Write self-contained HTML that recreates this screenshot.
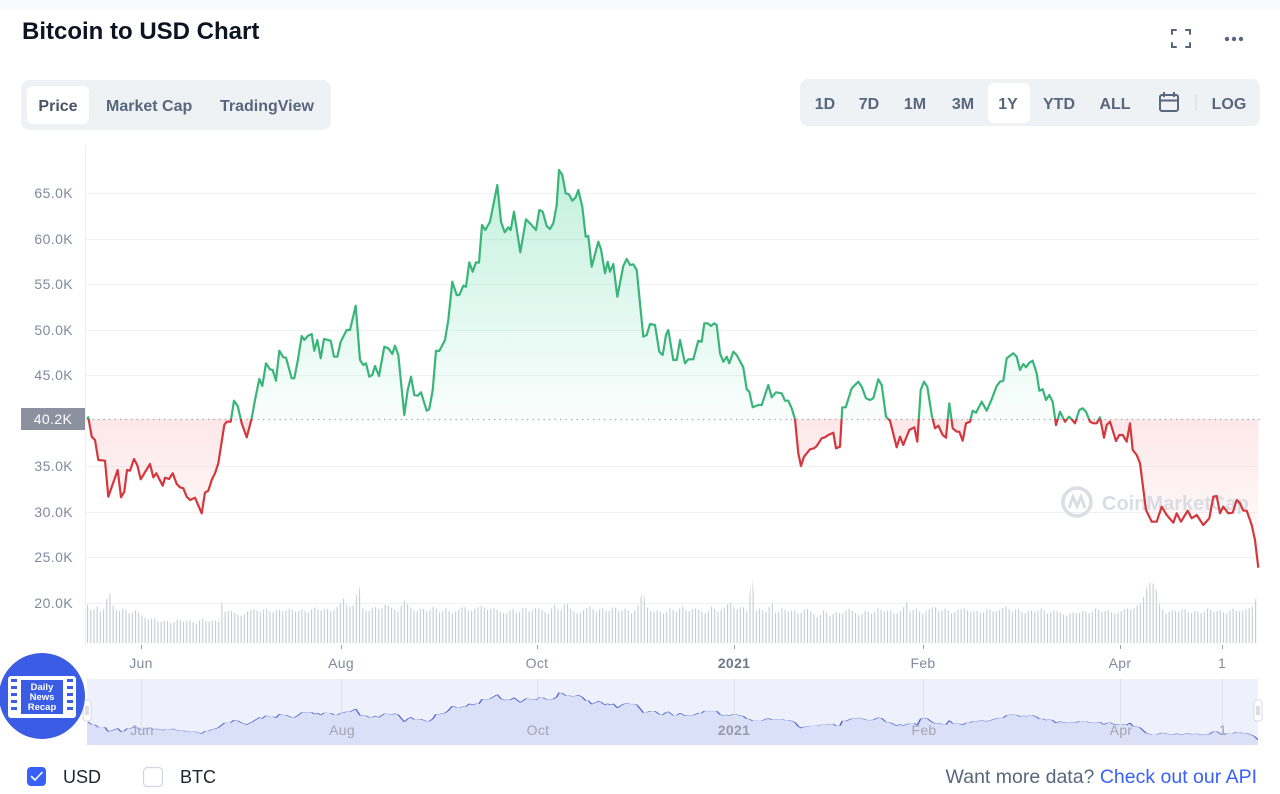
<!DOCTYPE html>
<html>
<head>
<meta charset="utf-8">
<style>
html,body{margin:0;padding:0;background:#fff;}
svg{display:block;font-family:"Liberation Sans",Arial,sans-serif;}
</style>
</head>
<body>
<svg width="1280" height="794" viewBox="0 0 1280 794" xmlns="http://www.w3.org/2000/svg">
<defs>
  <clipPath id="above"><rect x="0" y="0" width="1280" height="419"/></clipPath>
  <clipPath id="below"><rect x="0" y="419" width="1280" height="400"/></clipPath>
  <clipPath id="navclip"><rect x="87" y="679" width="1171" height="66"/></clipPath>
  <linearGradient id="gg" gradientUnits="userSpaceOnUse" x1="0" y1="170" x2="0" y2="419">
    <stop offset="0" stop-color="#16c784" stop-opacity="0.26"/>
    <stop offset="1" stop-color="#16c784" stop-opacity="0.02"/>
  </linearGradient>
  <linearGradient id="rg" gradientUnits="userSpaceOnUse" x1="0" y1="419" x2="0" y2="570">
    <stop offset="0" stop-color="#ea3943" stop-opacity="0.12"/>
    <stop offset="1" stop-color="#ea3943" stop-opacity="0"/>
  </linearGradient>
  <pattern id="vb" patternUnits="userSpaceOnUse" x="87" y="0" width="3.2" height="800">
    <rect x="0" y="0" width="1.1" height="800" fill="#c6cad4"/>
  </pattern>
  <path id="ln" d="M87,419 L88.3,417.3 91.7,436.7 95,440 98.3,460 105,460.7 108.3,496.7 117.7,470 121,497.3 124.3,491.7 127,470 130,470.7 134,459 137.3,465.3 140.7,479.3 150,464 153.3,477.3 156.3,473.3 162.7,485.7 165,477.7 169,479 172.7,473.3 176.7,484 180,487.3 183.3,488.3 186.7,496.7 190,500 195,497.7 201.7,513.3 205,492.7 208.3,490.7 211.7,480 215,473.3 218.3,463.3 224.3,425 226.7,421.7 230.7,421.7 234,400.7 237.7,406 241.7,423.3 246.7,437.3 251.7,418.3 255,400 259.3,379 262.3,386 266,363.3 270,369.3 272.7,370 276,380.7 279.3,350.7 283.3,357.3 286,357.7 291.7,378.3 294.3,378.3 297.7,361 301.7,336 304.3,340 307.7,336 311.7,334 314.3,350.7 317.3,340 320.7,358.3 324,339 330.7,340.7 334,356.7 337.3,356.7 340.7,341.7 346.7,330 350,330 355.7,305.7 360,360 363.3,365 366,363.3 369.3,376.7 372.3,375 375,366 379,376 384.3,346.7 388.3,348.3 392.3,354 395,345.7 398.3,355 404.3,415 407.7,390 411,376.7 414.3,395 417.7,395.7 421,392.3 426.7,410.7 429.3,409 432.7,390 436,350.7 439.3,351 445,340 448.3,320 452.3,281.7 456.7,295 459.3,295 463.3,285.7 466,286.7 469.3,262.3 472.7,271.7 476,262.3 479,262.7 482,225 485.3,230 490,221.7 497.3,185 501,221.7 504.7,232.3 508.3,227.3 510.7,230 514,211.7 520.3,252.3 526,219.3 530,223.3 536,230 539.3,210 542.7,211.7 546.7,226 550,229 553.3,223.3 556.7,205 559,170 562.3,175 565.7,193.3 569,194.3 572.3,200.7 575.7,197.3 578.3,190 582.3,206.7 585.7,236.7 588.3,236 591.7,266.7 598.3,241.7 601,249.3 605,273.3 607.7,261.7 610,271.7 613.3,264 617.3,296.7 623.3,266 626.7,259 630,265 633.3,264.3 636.7,270 643.3,336.7 646.7,335 650,324 655,325 659.3,351.7 662.7,355 666,335 668.3,330 673.3,360 676.7,360 680,340 685,363.3 688.3,359.3 693.3,359.3 698.3,340.7 701.7,341.7 704.3,323.3 707.7,323.3 711,326 714.3,323.3 716.7,325 720,353.3 723.3,361.7 726.7,356.7 729.3,363.3 733.3,351.7 736.7,355 743.3,367.3 746.7,389.3 749.3,391.7 752.7,407.3 758.3,405 761.7,405 768.3,385 771.7,397.3 776,392.3 781.7,393.3 785,400.7 788.3,400.7 791.7,408.3 795,419.3 798.3,453.3 801,466 804,456.7 810,449.3 814,448.3 816.7,446 821.7,438.3 825,437.3 828.3,435 833.3,432.7 836,448.3 840,446.7 842.3,407.3 845.7,407.3 851.7,388.3 858.3,381.7 861.7,386.7 866,398.3 870,400 873.3,398.3 878.3,379.3 881.7,385 886,416.7 890,420.7 896.7,447.3 900,436.7 903.3,445 909.3,430 914.3,427.3 917.3,441.7 920.7,390 924,381.7 927.3,386.7 931.7,415 935,428.3 938.3,425.7 942.7,435 946,437.7 949.3,403.3 952.7,428.3 956.7,431.7 959.3,431.7 962.7,440.7 966,423.3 970,421.7 972.7,410.7 976,412.7 981.7,401.7 986.7,410.7 991.7,399.3 996.7,386 1000,381.7 1003.3,380.7 1006.7,358.3 1013.3,353.3 1016.7,356.7 1020,370 1023.3,364 1026,367.3 1029.3,362.7 1032.7,360.7 1036.7,373.3 1039.3,390.7 1042.7,389.3 1046,400 1049.3,395 1052.7,401.7 1056,425 1060,411.7 1065,421.7 1069,416.7 1071.7,419.3 1075,423.3 1079.3,410 1082.7,408.3 1086,411.7 1090,421.7 1093.3,423.3 1096.7,423.3 1100,417.3 1104,437.7 1106.7,425 1110,421.7 1116,441 1119.3,435 1122.7,435 1126.7,441.7 1130,423.3 1132.7,450 1136.7,455 1140,463.3 1146,510 1151.7,521.7 1156.7,521.7 1161.7,506.7 1166.7,515 1173.3,522.7 1176.7,513.3 1181,521.7 1187.7,510.7 1191.7,518.3 1196.7,515 1203.3,525 1209.3,518.3 1213.3,496.7 1216.7,496 1220,513.3 1223.3,506.7 1228.3,513.3 1232.7,512.7 1236.7,500 1240,503.3 1243.3,510.7 1246.7,510.7 1251.7,525 1255,540 1258.3,567.7"/>
  <path id="fp" d="M87,419 L88.3,417.3 91.7,436.7 95,440 98.3,460 105,460.7 108.3,496.7 117.7,470 121,497.3 124.3,491.7 127,470 130,470.7 134,459 137.3,465.3 140.7,479.3 150,464 153.3,477.3 156.3,473.3 162.7,485.7 165,477.7 169,479 172.7,473.3 176.7,484 180,487.3 183.3,488.3 186.7,496.7 190,500 195,497.7 201.7,513.3 205,492.7 208.3,490.7 211.7,480 215,473.3 218.3,463.3 224.3,425 226.7,421.7 230.7,421.7 234,400.7 237.7,406 241.7,423.3 246.7,437.3 251.7,418.3 255,400 259.3,379 262.3,386 266,363.3 270,369.3 272.7,370 276,380.7 279.3,350.7 283.3,357.3 286,357.7 291.7,378.3 294.3,378.3 297.7,361 301.7,336 304.3,340 307.7,336 311.7,334 314.3,350.7 317.3,340 320.7,358.3 324,339 330.7,340.7 334,356.7 337.3,356.7 340.7,341.7 346.7,330 350,330 355.7,305.7 360,360 363.3,365 366,363.3 369.3,376.7 372.3,375 375,366 379,376 384.3,346.7 388.3,348.3 392.3,354 395,345.7 398.3,355 404.3,415 407.7,390 411,376.7 414.3,395 417.7,395.7 421,392.3 426.7,410.7 429.3,409 432.7,390 436,350.7 439.3,351 445,340 448.3,320 452.3,281.7 456.7,295 459.3,295 463.3,285.7 466,286.7 469.3,262.3 472.7,271.7 476,262.3 479,262.7 482,225 485.3,230 490,221.7 497.3,185 501,221.7 504.7,232.3 508.3,227.3 510.7,230 514,211.7 520.3,252.3 526,219.3 530,223.3 536,230 539.3,210 542.7,211.7 546.7,226 550,229 553.3,223.3 556.7,205 559,170 562.3,175 565.7,193.3 569,194.3 572.3,200.7 575.7,197.3 578.3,190 582.3,206.7 585.7,236.7 588.3,236 591.7,266.7 598.3,241.7 601,249.3 605,273.3 607.7,261.7 610,271.7 613.3,264 617.3,296.7 623.3,266 626.7,259 630,265 633.3,264.3 636.7,270 643.3,336.7 646.7,335 650,324 655,325 659.3,351.7 662.7,355 666,335 668.3,330 673.3,360 676.7,360 680,340 685,363.3 688.3,359.3 693.3,359.3 698.3,340.7 701.7,341.7 704.3,323.3 707.7,323.3 711,326 714.3,323.3 716.7,325 720,353.3 723.3,361.7 726.7,356.7 729.3,363.3 733.3,351.7 736.7,355 743.3,367.3 746.7,389.3 749.3,391.7 752.7,407.3 758.3,405 761.7,405 768.3,385 771.7,397.3 776,392.3 781.7,393.3 785,400.7 788.3,400.7 791.7,408.3 795,419.3 798.3,453.3 801,466 804,456.7 810,449.3 814,448.3 816.7,446 821.7,438.3 825,437.3 828.3,435 833.3,432.7 836,448.3 840,446.7 842.3,407.3 845.7,407.3 851.7,388.3 858.3,381.7 861.7,386.7 866,398.3 870,400 873.3,398.3 878.3,379.3 881.7,385 886,416.7 890,420.7 896.7,447.3 900,436.7 903.3,445 909.3,430 914.3,427.3 917.3,441.7 920.7,390 924,381.7 927.3,386.7 931.7,415 935,428.3 938.3,425.7 942.7,435 946,437.7 949.3,403.3 952.7,428.3 956.7,431.7 959.3,431.7 962.7,440.7 966,423.3 970,421.7 972.7,410.7 976,412.7 981.7,401.7 986.7,410.7 991.7,399.3 996.7,386 1000,381.7 1003.3,380.7 1006.7,358.3 1013.3,353.3 1016.7,356.7 1020,370 1023.3,364 1026,367.3 1029.3,362.7 1032.7,360.7 1036.7,373.3 1039.3,390.7 1042.7,389.3 1046,400 1049.3,395 1052.7,401.7 1056,425 1060,411.7 1065,421.7 1069,416.7 1071.7,419.3 1075,423.3 1079.3,410 1082.7,408.3 1086,411.7 1090,421.7 1093.3,423.3 1096.7,423.3 1100,417.3 1104,437.7 1106.7,425 1110,421.7 1116,441 1119.3,435 1122.7,435 1126.7,441.7 1130,423.3 1132.7,450 1136.7,455 1140,463.3 1146,510 1151.7,521.7 1156.7,521.7 1161.7,506.7 1166.7,515 1173.3,522.7 1176.7,513.3 1181,521.7 1187.7,510.7 1191.7,518.3 1196.7,515 1203.3,525 1209.3,518.3 1213.3,496.7 1216.7,496 1220,513.3 1223.3,506.7 1228.3,513.3 1232.7,512.7 1236.7,500 1240,503.3 1243.3,510.7 1246.7,510.7 1251.7,525 1255,540 1258.3,567.7 L1258.3,419 Z"/>
</defs>

<rect x="0" y="0" width="1280" height="10" fill="#f9fafb"/>

<!-- Title -->
<text x="22" y="39" font-size="24" font-weight="bold" fill="#0d1421">Bitcoin to USD Chart</text>

<!-- top right icons -->
<g stroke="#58667e" stroke-width="2" fill="none" stroke-linecap="round">
  <path d="M1172 34 V30 H1176"/>
  <path d="M1186 30 H1190 V34"/>
  <path d="M1190 43 V47 H1186"/>
  <path d="M1176 47 H1172 V43"/>
</g>
<circle cx="1227" cy="39" r="2.2" fill="#58667e"/>
<circle cx="1234" cy="39" r="2.2" fill="#58667e"/>
<circle cx="1241" cy="39" r="2.2" fill="#58667e"/>

<!-- Tabs -->
<rect x="21" y="80" width="310" height="50" rx="8" fill="#eff2f5"/>
<rect x="27" y="86" width="62" height="38" rx="6" fill="#ffffff"/>
<g font-size="16" font-weight="bold" fill="#58667e">
  <text x="58" y="111" text-anchor="middle" fill="#4a5468">Price</text>
  <text x="106" y="111">Market Cap</text>
  <text x="220" y="111">TradingView</text>
</g>

<!-- Range toolbar -->
<rect x="800" y="79" width="460" height="47" rx="8" fill="#eff2f5"/>
<rect x="988" y="83" width="42" height="40" rx="6" fill="#ffffff"/>
<g font-size="16" font-weight="bold" fill="#58667e" text-anchor="middle">
  <text x="825" y="109">1D</text>
  <text x="869" y="109">7D</text>
  <text x="915" y="109">1M</text>
  <text x="963" y="109">3M</text>
  <text x="1008" y="109">1Y</text>
  <text x="1059" y="109">YTD</text>
  <text x="1115" y="109">ALL</text>
  <text x="1229" y="109">LOG</text>
</g>
<g stroke="#58667e" stroke-width="2" fill="none">
  <rect x="1160" y="95" width="18" height="16" rx="2"/>
  <line x1="1160" y1="100.5" x2="1178" y2="100.5"/>
  <line x1="1164" y1="92" x2="1164" y2="97"/>
  <line x1="1174" y1="92" x2="1174" y2="97"/>
</g>
<line x1="1196" y1="94" x2="1196" y2="111" stroke="#d3d7de" stroke-width="1"/>

<!-- Grid -->
<g stroke="#eff2f5" stroke-width="1">
  <line x1="85" y1="193.5" x2="1258" y2="193.5"/>
  <line x1="85" y1="239.5" x2="1258" y2="239.5"/>
  <line x1="85" y1="284.5" x2="1258" y2="284.5"/>
  <line x1="85" y1="330.5" x2="1258" y2="330.5"/>
  <line x1="85" y1="375.5" x2="1258" y2="375.5"/>
  <line x1="85" y1="466.5" x2="1258" y2="466.5"/>
  <line x1="85" y1="512.5" x2="1258" y2="512.5"/>
  <line x1="85" y1="557.5" x2="1258" y2="557.5"/>
  <line x1="85" y1="603.5" x2="1258" y2="603.5"/>
</g>
<line x1="85.5" y1="145" x2="85.5" y2="645" stroke="#eceff3" stroke-width="1"/>

<!-- Y labels -->
<g font-size="14" fill="#808a9d" text-anchor="end" letter-spacing="0.4">
  <text x="73" y="198">65.0K</text>
  <text x="73" y="244">60.0K</text>
  <text x="73" y="289">55.0K</text>
  <text x="73" y="335">50.0K</text>
  <text x="73" y="380">45.0K</text>
  <text x="73" y="471">35.0K</text>
  <text x="73" y="517">30.0K</text>
  <text x="73" y="562">25.0K</text>
  <text x="73" y="608">20.0K</text>
</g>

<!-- Volume bars -->
<polygon fill="url(#vb)" points="87,604 92,612 97,606 102,614 107,598 110,593 113,606 118,612 124,608 130,614 136,610 142,616 148,620 154,618 160,622 166,620 172,624 178,619 184,622 190,620 196,624 202,618 208,622 214,620 219,622 221,598 224,612 230,610 236,614 242,616 248,611 254,609 260,612 266,608 272,613 278,609 284,612 290,608 296,612 302,609 308,613 314,607 320,611 326,608 332,612 338,606 344,598 348,608 354,605 359,584 362,608 368,612 374,606 380,610 386,604 392,608 398,612 404,600 410,607 416,612 422,608 428,612 434,606 440,613 446,608 452,614 458,610 464,606 470,612 476,608 482,606 488,610 494,608 500,612 506,614 512,608 518,614 524,606 530,612 536,608 542,610 548,614 554,604 560,612 566,602 572,610 578,614 584,610 590,606 596,612 602,608 608,612 614,606 620,612 626,608 632,614 638,606 643,590 646,606 652,612 658,610 664,614 670,608 676,612 682,606 688,612 694,608 700,610 706,614 712,606 718,612 724,608 730,602 736,610 742,606 748,612 752,570 755,612 760,608 766,612 772,602 776,614 782,608 788,612 794,610 800,614 806,608 812,612 818,618 824,610 830,616 836,612 842,614 848,608 854,612 860,616 866,610 872,614 878,608 884,612 890,610 896,614 902,610 907,601 910,612 916,608 922,614 928,610 934,606 940,612 946,608 952,614 958,610 964,608 970,612 976,610 982,614 988,608 994,612 1000,610 1006,606 1012,612 1018,608 1024,614 1030,610 1036,612 1042,608 1048,614 1054,610 1060,612 1066,616 1072,612 1078,614 1084,610 1090,614 1096,608 1102,612 1108,610 1114,614 1120,612 1126,608 1132,610 1136,606 1140,604 1144,596 1148,584 1152,582 1156,588 1160,606 1166,614 1172,610 1178,612 1184,608 1190,614 1196,610 1202,614 1208,608 1214,612 1220,610 1226,614 1232,608 1238,612 1244,610 1250,608 1254,606 1258,588 1258,643 87,643"/>

<!-- Price fill -->
<use href="#fp" fill="url(#gg)" clip-path="url(#above)"/>
<use href="#fp" fill="url(#rg)" clip-path="url(#below)"/>

<!-- Watermark -->
<g opacity="0.9">
  <circle cx="1077" cy="502" r="14" fill="none" stroke="#d6dae2" stroke-width="3.5"/>
  <path d="M1069 508 L1073 497 L1077 506 L1081 497 L1085 508" fill="none" stroke="#d6dae2" stroke-width="3"/>
  <text x="1102" y="510" font-size="20" font-weight="bold" fill="#d6dae2">CoinMarketCap</text>
</g>

<!-- Dotted baseline -->
<line x1="87" y1="419.5" x2="1260" y2="419.5" stroke="#9ea4b0" stroke-width="1.3" stroke-dasharray="1.3 4.2"/>

<!-- Price line -->
<use href="#ln" fill="none" stroke="#3ab57a" stroke-width="2.2" stroke-linejoin="round" clip-path="url(#above)"/>
<use href="#ln" fill="none" stroke="#d4373c" stroke-width="2.2" stroke-linejoin="round" clip-path="url(#below)"/>

<!-- 40.2K current label -->
<rect x="21" y="408" width="64" height="22" fill="#8b919e"/>
<text x="53" y="424" font-size="14" fill="#ffffff" text-anchor="middle" letter-spacing="0.4">40.2K</text>

<!-- X axis ticks & labels -->
<g stroke="#9aa0ab" stroke-width="1">
  <line x1="141.5" y1="645" x2="141.5" y2="649"/>
  <line x1="341.5" y1="645" x2="341.5" y2="649"/>
  <line x1="537.5" y1="645" x2="537.5" y2="649"/>
  <line x1="734.5" y1="645" x2="734.5" y2="649"/>
  <line x1="923.5" y1="645" x2="923.5" y2="649"/>
  <line x1="1120.5" y1="645" x2="1120.5" y2="649"/>
  <line x1="1222.5" y1="645" x2="1222.5" y2="649"/>
</g>
<g font-size="14" fill="#808a9d" text-anchor="middle" letter-spacing="0.3">
  <text x="141" y="668">Jun</text>
  <text x="341" y="668">Aug</text>
  <text x="537" y="668">Oct</text>
  <text x="734" y="668" font-weight="bold" fill="#6f7889">2021</text>
  <text x="923" y="668">Feb</text>
  <text x="1120" y="668">Apr</text>
  <text x="1222" y="668">1</text>
</g>

<!-- Navigator -->
<rect x="87" y="679" width="1171" height="66" fill="#eef0fc"/>
<g clip-path="url(#navclip)">
  <g transform="matrix(1 0 0 0.119 0 672.5)">
    <path d="M87,419 L88.3,417.3 91.7,436.7 95,440 98.3,460 105,460.7 108.3,496.7 117.7,470 121,497.3 124.3,491.7 127,470 130,470.7 134,459 137.3,465.3 140.7,479.3 150,464 153.3,477.3 156.3,473.3 162.7,485.7 165,477.7 169,479 172.7,473.3 176.7,484 180,487.3 183.3,488.3 186.7,496.7 190,500 195,497.7 201.7,513.3 205,492.7 208.3,490.7 211.7,480 215,473.3 218.3,463.3 224.3,425 226.7,421.7 230.7,421.7 234,400.7 237.7,406 241.7,423.3 246.7,437.3 251.7,418.3 255,400 259.3,379 262.3,386 266,363.3 270,369.3 272.7,370 276,380.7 279.3,350.7 283.3,357.3 286,357.7 291.7,378.3 294.3,378.3 297.7,361 301.7,336 304.3,340 307.7,336 311.7,334 314.3,350.7 317.3,340 320.7,358.3 324,339 330.7,340.7 334,356.7 337.3,356.7 340.7,341.7 346.7,330 350,330 355.7,305.7 360,360 363.3,365 366,363.3 369.3,376.7 372.3,375 375,366 379,376 384.3,346.7 388.3,348.3 392.3,354 395,345.7 398.3,355 404.3,415 407.7,390 411,376.7 414.3,395 417.7,395.7 421,392.3 426.7,410.7 429.3,409 432.7,390 436,350.7 439.3,351 445,340 448.3,320 452.3,281.7 456.7,295 459.3,295 463.3,285.7 466,286.7 469.3,262.3 472.7,271.7 476,262.3 479,262.7 482,225 485.3,230 490,221.7 497.3,185 501,221.7 504.7,232.3 508.3,227.3 510.7,230 514,211.7 520.3,252.3 526,219.3 530,223.3 536,230 539.3,210 542.7,211.7 546.7,226 550,229 553.3,223.3 556.7,205 559,170 562.3,175 565.7,193.3 569,194.3 572.3,200.7 575.7,197.3 578.3,190 582.3,206.7 585.7,236.7 588.3,236 591.7,266.7 598.3,241.7 601,249.3 605,273.3 607.7,261.7 610,271.7 613.3,264 617.3,296.7 623.3,266 626.7,259 630,265 633.3,264.3 636.7,270 643.3,336.7 646.7,335 650,324 655,325 659.3,351.7 662.7,355 666,335 668.3,330 673.3,360 676.7,360 680,340 685,363.3 688.3,359.3 693.3,359.3 698.3,340.7 701.7,341.7 704.3,323.3 707.7,323.3 711,326 714.3,323.3 716.7,325 720,353.3 723.3,361.7 726.7,356.7 729.3,363.3 733.3,351.7 736.7,355 743.3,367.3 746.7,389.3 749.3,391.7 752.7,407.3 758.3,405 761.7,405 768.3,385 771.7,397.3 776,392.3 781.7,393.3 785,400.7 788.3,400.7 791.7,408.3 795,419.3 798.3,453.3 801,466 804,456.7 810,449.3 814,448.3 816.7,446 821.7,438.3 825,437.3 828.3,435 833.3,432.7 836,448.3 840,446.7 842.3,407.3 845.7,407.3 851.7,388.3 858.3,381.7 861.7,386.7 866,398.3 870,400 873.3,398.3 878.3,379.3 881.7,385 886,416.7 890,420.7 896.7,447.3 900,436.7 903.3,445 909.3,430 914.3,427.3 917.3,441.7 920.7,390 924,381.7 927.3,386.7 931.7,415 935,428.3 938.3,425.7 942.7,435 946,437.7 949.3,403.3 952.7,428.3 956.7,431.7 959.3,431.7 962.7,440.7 966,423.3 970,421.7 972.7,410.7 976,412.7 981.7,401.7 986.7,410.7 991.7,399.3 996.7,386 1000,381.7 1003.3,380.7 1006.7,358.3 1013.3,353.3 1016.7,356.7 1020,370 1023.3,364 1026,367.3 1029.3,362.7 1032.7,360.7 1036.7,373.3 1039.3,390.7 1042.7,389.3 1046,400 1049.3,395 1052.7,401.7 1056,425 1060,411.7 1065,421.7 1069,416.7 1071.7,419.3 1075,423.3 1079.3,410 1082.7,408.3 1086,411.7 1090,421.7 1093.3,423.3 1096.7,423.3 1100,417.3 1104,437.7 1106.7,425 1110,421.7 1116,441 1119.3,435 1122.7,435 1126.7,441.7 1130,423.3 1132.7,450 1136.7,455 1140,463.3 1146,510 1151.7,521.7 1156.7,521.7 1161.7,506.7 1166.7,515 1173.3,522.7 1176.7,513.3 1181,521.7 1187.7,510.7 1191.7,518.3 1196.7,515 1203.3,525 1209.3,518.3 1213.3,496.7 1216.7,496 1220,513.3 1223.3,506.7 1228.3,513.3 1232.7,512.7 1236.7,500 1240,503.3 1243.3,510.7 1246.7,510.7 1251.7,525 1255,540 1258.3,567.7 L1260,620 L85,620 Z" fill="#dae0f8" stroke="none"/>
    <use href="#ln" fill="none" stroke="#4d63cf" stroke-width="1.6" vector-effect="non-scaling-stroke"/>
  </g>
</g>
<g stroke="#dde1ee" stroke-width="1">
  <line x1="141.5" y1="679" x2="141.5" y2="745"/>
  <line x1="341.5" y1="679" x2="341.5" y2="745"/>
  <line x1="537.5" y1="679" x2="537.5" y2="745"/>
  <line x1="734.5" y1="679" x2="734.5" y2="745"/>
  <line x1="923.5" y1="679" x2="923.5" y2="745"/>
  <line x1="1120.5" y1="679" x2="1120.5" y2="745"/>
  <line x1="1222.5" y1="679" x2="1222.5" y2="745"/>
</g>
<g font-size="14" fill="#a0a6b3" text-anchor="middle" letter-spacing="0.3">
  <text x="142" y="735">Jun</text>
  <text x="342" y="735">Aug</text>
  <text x="538" y="735">Oct</text>
  <text x="734" y="735" font-weight="bold" fill="#959cab">2021</text>
  <text x="924" y="735">Feb</text>
  <text x="1121" y="735">Apr</text>
  <text x="1223" y="735">1</text>
</g>
<!-- handles -->
<rect x="83" y="700" width="8" height="21" rx="3" fill="#ffffff" stroke="#d5d9e2" stroke-width="1"/>
<line x1="86" y1="706" x2="86" y2="715" stroke="#b5bac5"/>
<line x1="88" y1="706" x2="88" y2="715" stroke="#b5bac5"/>
<rect x="1254" y="700" width="8" height="21" rx="3" fill="#ffffff" stroke="#d5d9e2" stroke-width="1"/>
<line x1="1257" y1="706" x2="1257" y2="715" stroke="#b5bac5"/>
<line x1="1259" y1="706" x2="1259" y2="715" stroke="#b5bac5"/>

<!-- Daily News Recap logo -->
<circle cx="42" cy="696" r="43" fill="#3b5ce5"/>
<rect x="8" y="676" width="68" height="42" rx="3" fill="#ffffff"/>
<rect x="21" y="680" width="42" height="34" fill="#3b5ce5"/>
<g fill="#3b5ce5">
  <rect x="11" y="679" width="6" height="3"/>
  <rect x="11" y="686" width="6" height="3"/>
  <rect x="11" y="693" width="6" height="3"/>
  <rect x="11" y="700" width="6" height="3"/>
  <rect x="11" y="707" width="6" height="3"/>
  <rect x="67" y="679" width="6" height="3"/>
  <rect x="67" y="686" width="6" height="3"/>
  <rect x="67" y="693" width="6" height="3"/>
  <rect x="67" y="700" width="6" height="3"/>
  <rect x="67" y="707" width="6" height="3"/>
</g>
<g font-size="9.5" font-weight="bold" fill="#ffffff" text-anchor="middle">
  <text x="42" y="690">Daily</text>
  <text x="42" y="700">News</text>
  <text x="42" y="710">Recap</text>
</g>

<!-- Bottom legend -->
<rect x="27" y="767" width="19" height="19" rx="4" fill="#3861fb"/>
<path d="M31.5 776.5 L35 780 L42 772.5" fill="none" stroke="#ffffff" stroke-width="1.6" stroke-linecap="round" stroke-linejoin="round"/>
<text x="63" y="783" font-size="18" fill="#222531">USD</text>
<rect x="143.5" y="767.5" width="19" height="19" rx="4" fill="#ffffff" stroke="#cfd6e4" stroke-width="1.2"/>
<text x="180" y="783" font-size="18" fill="#222531">BTC</text>
<text x="1257" y="783" font-size="19.5" text-anchor="end"><tspan fill="#58667e">Want more data? </tspan><tspan fill="#3861fb">Check out our API</tspan></text>
</svg>
</body>
</html>
